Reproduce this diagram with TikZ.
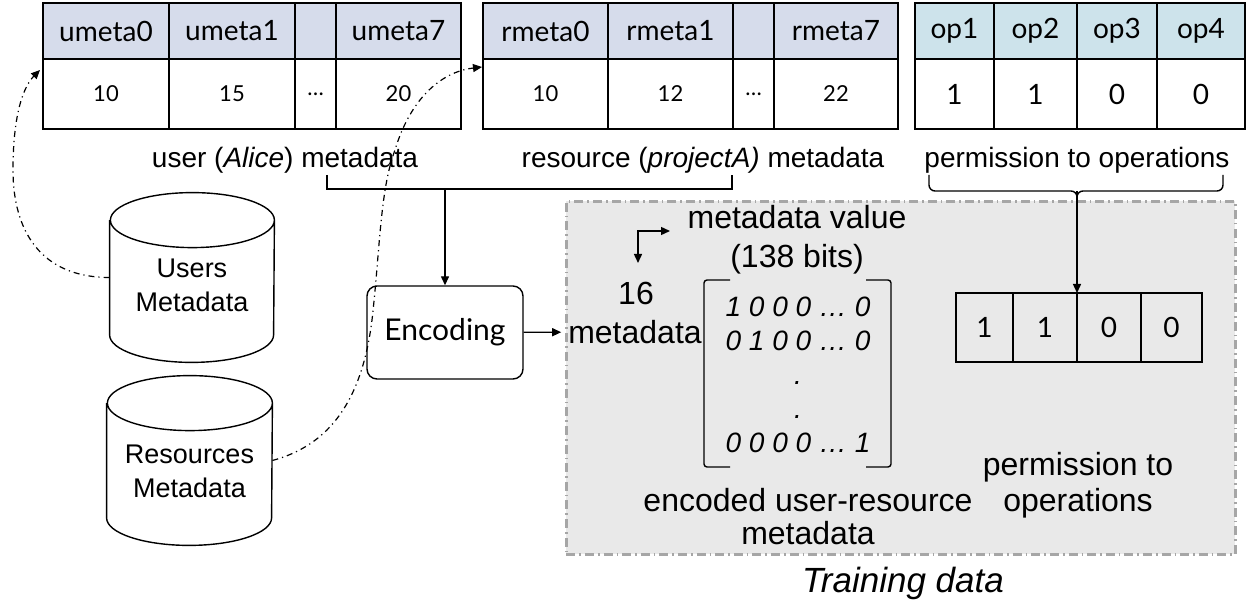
\documentclass[tikz,border=0pt]{standalone}
\usepackage{fontspec}
\setmainfont{Liberation Sans}
\newfontfamily\gillfont{Lato}
\usetikzlibrary{arrows.meta, positioning}
\definecolor{headblue}{RGB}{214,220,235}
\definecolor{headcyan}{RGB}{205,227,235}
\definecolor{trainfill}{RGB}{233,233,233}
\definecolor{trainedge}{RGB}{166,166,166}

% cylinder outline round a named node (#2 = half width)
\newcommand{\drawdb}[2]{%
  \draw[line width=0.7pt] ([yshift=-13.75pt]#1.north west) -- ([yshift=13.75pt]#1.south west)
    arc[start angle=180, end angle=360, x radius=#2, y radius=13.75pt]
    -- ([yshift=-13.75pt]#1.north east)
    arc[start angle=0, end angle=180, x radius=#2, y radius=13.75pt]
    arc[start angle=180, end angle=360, x radius=#2, y radius=13.75pt];}

\begin{document}
\begin{tikzpicture}[x=0.5pt, y=-0.5pt, >=Triangle,
  cellbase/.style={draw, line width=0.7pt, inner sep=0pt, outer sep=0pt,
    font=\gillfont\fontsize{14}{16}\selectfont},
  uhead/.style={cellbase, fill=headblue, minimum height=28pt},
  ucell/.style={cellbase, fill=white, minimum height=35pt, font=\gillfont\fontsize{11}{13}\selectfont},
  ophead/.style={cellbase, fill=headcyan, minimum height=28pt},
  opcell/.style={cellbase, fill=white, minimum height=35pt},
  bitcell/.style={cellbase, minimum height=34.5pt},
  caption/.style={font=\fontsize{14}{17}\selectfont},
  note/.style={align=center, font=\fontsize{16}{19.5}\selectfont},
  db/.style={rectangle, inner sep=0pt, minimum height=84.5pt},
  dblabel/.style={align=center, font=\fontsize{13.5}{17}\selectfont},
  encbox/.style={draw, rounded corners=5pt, line width=0.7pt, minimum width=78pt,
    minimum height=46.5pt, font=\gillfont\fontsize{15}{18}\selectfont},
  trainbox/.style={draw=trainedge, fill=trainfill, line width=1.3pt,
    dash pattern=on 4.5pt off 2pt on 0.8pt off 2pt},
  arr/.style={line width=0.7pt, -{Triangle[length=4.5pt,width=4pt]}},
  link/.style={line width=0.6pt, dash pattern=on 3pt off 2pt on 0.6pt off 2pt,
    -{Triangle[length=4.5pt,width=4pt]}},
  brace/.style={line width=0.7pt}]

  \useasboundingbox (0,0) rectangle (1248,604);

  % Training data area
  \node[trainbox, anchor=north west, minimum width=334.5pt, minimum height=176.5pt] (train) at (565,200) {};
  \node[font=\itshape\fontsize{17.5}{20}\selectfont] (trainlab) at (903,583) {Training data};

  % user metadata table
  \node[uhead, minimum width=63pt, anchor=north west] (uh0) at (43,3) {umeta0};
  \node[uhead, minimum width=63pt, right=0pt of uh0] (uh1) {umeta1};
  \node[uhead, minimum width=20.5pt, right=0pt of uh1] (uh2) {};
  \node[uhead, minimum width=62.5pt, right=0pt of uh2] (uh3) {umeta7};
  \node[ucell, minimum width=63pt, below=0pt of uh0] (uv0) {10};
  \node[ucell, minimum width=63pt, right=0pt of uv0] (uv1) {15};
  \node[ucell, minimum width=20.5pt, right=0pt of uv1] (uv2) {\dots};
  \node[ucell, minimum width=62.5pt, right=0pt of uv2] (uv3) {20};

  % resource metadata table
  \node[uhead, minimum width=62.5pt, anchor=north west] (rh0) at (483,3) {rmeta0};
  \node[uhead, minimum width=62.5pt, right=0pt of rh0] (rh1) {rmeta1};
  \node[uhead, minimum width=20.5pt, right=0pt of rh1] (rh2) {};
  \node[uhead, minimum width=62pt, right=0pt of rh2] (rh3) {rmeta7};
  \node[ucell, minimum width=62.5pt, below=0pt of rh0] (rv0) {10};
  \node[ucell, minimum width=62.5pt, right=0pt of rv0] (rv1) {12};
  \node[ucell, minimum width=20.5pt, right=0pt of rv1] (rv2) {\dots};
  \node[ucell, minimum width=62pt, right=0pt of rv2] (rv3) {22};

  % operations table
  \node[ophead, minimum width=39.5pt, anchor=north west] (oh0) at (915,3) {op1};
  \node[ophead, minimum width=41.5pt, right=0pt of oh0] (oh1) {op2};
  \node[ophead, minimum width=40pt, right=0pt of oh1] (oh2) {op3};
  \node[ophead, minimum width=44pt, right=0pt of oh2] (oh3) {op4};
  \node[opcell, minimum width=39.5pt, below=0pt of oh0] (ov0) {1};
  \node[opcell, minimum width=41.5pt, right=0pt of ov0] (ov1) {1};
  \node[opcell, minimum width=40pt, right=0pt of ov1] (ov2) {0};
  \node[opcell, minimum width=44pt, right=0pt of ov2] (ov3) {0};

  \node[caption] (ulab) at (285,160) {user (\textit{Alice}) metadata};
  \node[caption] (rlab) at (703,160) {resource (\textit{projectA)} metadata};
  \node[caption] (plab) at (1077,160) {permission to operations};

  % databases
  \node[db, minimum width=82pt] (usersdb) at (192,277.5) {};
  \drawdb{usersdb}{41pt}
  \node[dblabel] (userslab) at ([yshift=-3.75pt]usersdb.center) {Users\\Metadata};
  \node[db, minimum width=82.5pt] (resdb) at (189.5,460.5) {};
  \drawdb{resdb}{41.25pt}
  \node[dblabel] (reslab) at ([yshift=-5.5pt]resdb.center) {Resources\\Metadata};

  \node[encbox] (enc) at (445,332.5) {Encoding};

  % brackets
  \coordinate (ujoin) at (445,189);
  \coordinate (pjoin) at (1077,191);
  \draw[brace] (327,175) |- (732,189) -- (732,175);
  \draw[arr] (ujoin) -- (enc);
  \draw[brace, rounded corners=3pt] (929,175) |- (pjoin) -- (1077,200);
  \draw[brace, rounded corners=3pt] (1223,175) |- (pjoin) -- (1077,200);

  % encoded matrix
  \node[note] (mval) at (797,240) {metadata value\\(138 bits)};
  \node[note] (n16) at (636,293) {16};
  \node[note] (nmeta) at (635,332) {metadata};
  \node[align=center, font=\itshape\fontsize{14}{17}\selectfont] (mrows) at (798,375)
    {1 0 0 0 … 0\\0 1 0 0 … 0\\.\\.\\0 0 0 0 … 1};
  \draw[brace, rounded corners=1.5pt] (730,280) -- (704,280) -- (704,467) -- (730,467);
  \draw[brace, rounded corners=1.5pt] (866,280) -- (891,280) -- (891,467) -- (866,467);
  \node[note, font=\fontsize{16}{16.5}\selectfont] (enclab) at (808,516.5) {encoded user-resource\\metadata};

  \coordinate (corner) at (638,231);
  \coordinate (cright) at (670,231);
  \coordinate (cdown) at (638,263);
  \draw[line width=0.7pt, {Triangle[length=4.5pt,width=4pt]}-{Triangle[length=4.5pt,width=4pt]}]
    (cdown) -- (corner) -- (cright);

  % permission vector
  \node[bitcell, minimum width=28.5pt, anchor=north west] (bv0) at (956,293) {1};
  \node[bitcell, minimum width=32pt, right=0pt of bv0] (bv1) {1};
  \node[bitcell, minimum width=32pt, right=0pt of bv1] (bv2) {0};
  \node[bitcell, minimum width=30.5pt, right=0pt of bv2] (bv3) {0};
  \node[note, font=\fontsize{16}{18}\selectfont] (permlab) at (1078,485) {permission to\\operations};

  \draw[arr] (pjoin) -- (bv1.north east);
  \draw[arr] (enc) -- (nmeta);

  % lookups
  \coordinate (uin) at (40,70);
  \coordinate (rin) at (482,67);
  \draw[link] (usersdb.west) .. controls (40,277.5) and (13,230) .. (13,170)
    .. controls (13,110) and (25,85) .. (uin);
  \draw[link] (resdb.east) .. controls (330,445) and (362,400) .. (372,320)
    .. controls (380,250) and (380,190) .. (395,150)
    .. controls (410,100) and (440,72) .. (rin);

\end{tikzpicture}
\end{document}
